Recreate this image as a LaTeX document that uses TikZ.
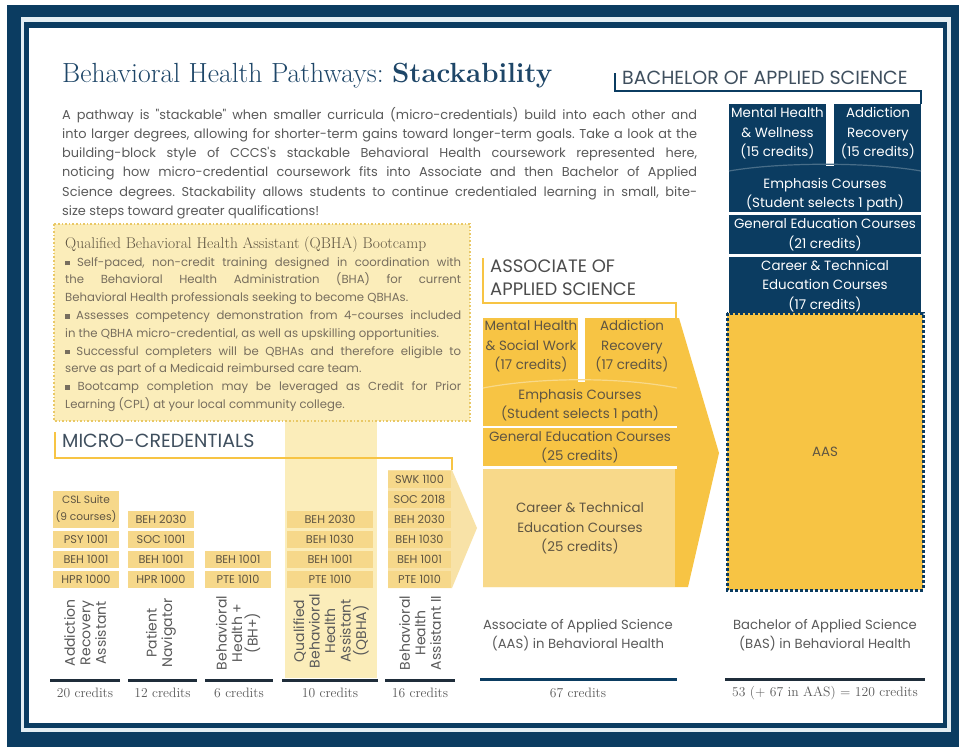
\documentclass[tikz,border=0pt]{standalone}
\usepackage{fontspec}
\usepackage{xcolor}
\usepackage{tikz}
\usetikzlibrary{positioning}
\newfontfamily\popfont{Poppins}
\frenchspacing

\definecolor{bhnavy}{HTML}{0B3C61}
\definecolor{titleblue}{HTML}{1E4668}
\definecolor{rim}{HTML}{E4EEF3}
\definecolor{gold}{HTML}{F7C444}
\definecolor{goldlt}{HTML}{F8D98A}
\definecolor{straw}{HTML}{F6D88A}
\definecolor{cream}{HTML}{FBEDBA}
\definecolor{dotgold}{HTML}{E9C866}
\definecolor{inkgrey}{HTML}{5A5A5A}
\definecolor{boxink}{HTML}{5F5542}
\definecolor{slate}{HTML}{3F4F5E}
\definecolor{rule}{HTML}{1F2D3A}

\begin{document}
\begin{tikzpicture}[x=1pt, y=-1pt,
  body/.style={font=\popfont\fontsize{12.9}{19.2}\selectfont, text=inkgrey, inner sep=0pt},
  head/.style={font=\popfont\fontsize{19}{23}\selectfont, inner sep=0pt, anchor=base west},
  mcbox/.style={fill=straw, text=boxink, font=\popfont\fontsize{11.3}{17}\selectfont, minimum height=17, inner sep=0pt},
  vlab/.style={font=\popfont\fontsize{14}{15.5}\selectfont, text=inkgrey, rotate=90, align=center, inner sep=0pt},
  stacktxt/.style={font=\popfont\fontsize{13.4}{19.5}\selectfont, align=center, inner sep=0pt},
  credline/.style={rule, line width=3pt},
  credtxt/.style={font=\fontsize{13.6}{15}\selectfont, text=inkgrey, inner sep=0pt}]
  \useasboundingbox (0,0) rectangle (959,747);
  \fill[white] (0,0) rectangle (959,747);

  % frame
  \fill[bhnavy] (7,5) rectangle (959,747);
  \fill[rim] (21,17) rectangle (951,732);
  \fill[bhnavy] (24,22) rectangle (947,728);
  \fill[white] (29,28) rectangle (943,723);

  % title and intro
  \node[anchor=base west, inner sep=0pt, text=titleblue, font=\fontsize{27.7}{30}\selectfont] (title) at (62,82)
    {Behavioral Health Pathways: \textbf{Stackability}};
  \node[body, anchor=north west, text width=635, align=justify] (intro) at (62,107)
    {A pathway is "stackable" when smaller curricula (micro-credentials) build into each other and\linebreak
     into larger degrees, allowing for shorter-term gains toward longer-term goals. Take a look at the\linebreak
     building-block style of CCCS's stackable Behavioral Health coursework represented here,\linebreak
     noticing how micro-credential coursework fits into Associate and then Bachelor of Applied\linebreak
     Science degrees. Stackability allows students to continue credentialed learning in small, bite-\linebreak
     size steps toward greater qualifications!};

  % QBHA column highlight + bootcamp box
  \fill[cream] (285,421) rectangle (377,678);
  \draw[dotgold, line width=1.6pt, dotted, fill=cream] (54,224) rectangle (470,421);
  \node[anchor=base west, inner sep=0pt, text=boxink, font=\fontsize{15.5}{18}\selectfont] (qbha-title) at (65,248)
    {Qualified Behavioral Health Assistant (QBHA) Bootcamp};
  \node[anchor=north west, inner sep=0pt, text width=396, align=justify, text=boxink!85,
        font=\popfont\fontsize{11.7}{17.8}\selectfont] (qbha) at (65,257)
    {\raisebox{0.8pt}{\rule{4.5pt}{4.5pt}} Self-paced, non-credit training designed in coordination with\linebreak
     the Behavioral Health Administration (BHA) for current\linebreak
     Behavioral Health professionals seeking to become QBHAs.\\
     \raisebox{0.8pt}{\rule{4.5pt}{4.5pt}} Assesses competency demonstration from 4-courses included\linebreak
     in the QBHA micro-credential, as well as upskilling opportunities.\\
     \raisebox{0.8pt}{\rule{4.5pt}{4.5pt}} Successful completers will be QBHAs and therefore eligible to\linebreak
     serve as part of a Medicaid reimbursed care team.\\
     \raisebox{0.8pt}{\rule{4.5pt}{4.5pt}} Bootcamp completion may be leveraged as Credit for Prior\linebreak
     Learning (CPL) at your local community college.};

  % micro-credentials
  \node[head, text=slate] (micro-head) at (62,447) {MICRO-CREDENTIALS};
  \draw[gold, line width=2.5pt] (55,432) -- (55,458) -- (452,458) -- (452,470);
  \fill[straw!75!white] (388,470) -- (452,470) -- (477,528) -- (452,588) -- (388,588) -- cycle;
  \foreach \k/\cx/\cw/\rows in {a/86/66/{HPR 1000,BEH 1001,PSY 1001},
      b/161/66/{HPR 1000,BEH 1001,SOC 1001,BEH 2030},
      c/238/66/{PTE 1010,BEH 1001},
      d/330/86/{PTE 1010,BEH 1001,BEH 1030,BEH 2030},
      e/419.5/63/{PTE 1010,BEH 1001,BEH 1030,BEH 2030,SOC 2018,SWK 1100}} {
    \foreach \lab [count=\i] in \rows
      \node[mcbox, minimum width=\cw, name=\k\i] at (\cx,599-20*\i) {\lab};
  }
  \node[mcbox, minimum width=66, minimum height=37, align=center,
        font=\popfont\fontsize{10.6}{17}\selectfont] (a4) at (86,509) {CSL Suite\\(9 courses)};

  % column names and credits
  \node[vlab] (lab-a) at (85,633) {Addiction\\Recovery\\Assistant};
  \node[vlab] (lab-b) at (161,633) {Patient\\Navigator};
  \node[vlab] (lab-c) at (238,633) {Behavioral\\Health +\\(BH+)};
  \node[vlab] (lab-d) at (331,631) {Qualified\\Behavioral\\Health\\Assistant\\(QBHA)};
  \node[vlab] (lab-e) at (420,633) {Behavioral\\Health\\Assistant II};
  \foreach \k/\xa/\xb/\cr in {a/50/120/20, b/128/197/12, c/205/273/6, d/282/378/10, e/385/455/16} {
    \draw[credline] (\xa,680) -- (\xb,680);
    \node[credtxt, name=cr-\k] at ({(\xa+\xb)/2},693) {\cr\ credits};
  }

  % associate of applied science
  \node[head, text=inkgrey!85!black, align=left, anchor=north west,
        font=\popfont\fontsize{18}{23}\selectfont] (aas-head) at (490,260)
    {ASSOCIATE OF\\APPLIED SCIENCE};
  \draw[gold, line width=2.5pt] (483,258) -- (483,303) -- (676,303) -- (676,318);
  \fill[gold] (483,318) -- (679,318) -- (719,453) -- (688,587) -- (483,587) -- cycle;
  \fill[goldlt] (483,469) rectangle (675,587);
  \fill[white] (578,318) rectangle (585,382);
  \draw[goldlt, line width=1.2pt] (483,388) .. controls (540,377) and (620,377) .. (677,388);
  \draw[white, line width=2.5pt] (483,427) -- (677,427) (483,467.5) -- (677,467.5);
  \node[stacktxt, text=boxink] (aas-mh) at (531,346.5) {Mental Health\\\& Social Work\\(17 credits)};
  \node[stacktxt, text=boxink] (aas-ar) at (632,346.5) {Addiction\\Recovery\\(17 credits)};
  \node[stacktxt, text=boxink] (aas-em) at (580,405.5) {Emphasis Courses\\(Student selects 1 path)};
  \node[stacktxt, text=boxink] (aas-ge) at (580,447) {General Education Courses\\(25 credits)};
  \node[stacktxt, text=boxink] (aas-ct) at (580,528.5) {Career \& Technical\\Education Courses\\(25 credits)};
  \node[stacktxt, text=inkgrey, font=\popfont\fontsize{13.2}{19.5}\selectfont] (aas-name) at (578,635)
    {Associate of Applied Science\\(AAS) in Behavioral Health};
  \draw[credline, bhnavy] (480,679) -- (677,679);
  \node[credtxt] (aas-cr) at (578,693) {67 credits};

  % bachelor of applied science
  \node[head, text=slate] (bas-head) at (622,84.5) {BACHELOR OF APPLIED SCIENCE};
  \draw[bhnavy, line width=2.5pt] (615,73) -- (615,91) -- (921,91) -- (921,104);
  \fill[bhnavy] (729,104) rectangle (921,313);
  \fill[white] (826,104) rectangle (834,166);
  \draw[bhnavy!75!white, line width=1.2pt] (729,171) .. controls (780,162) and (870,162) .. (921,171);
  \draw[white, line width=2.5pt] (729,213.5) -- (921,213.5) (729,255.5) -- (921,255.5);
  \node[stacktxt, text=white] (bas-mh) at (777.5,133.5) {Mental Health\\\& Wellness\\(15 credits)};
  \node[stacktxt, text=white] (bas-ar) at (878,133.5) {Addiction\\Recovery\\(15 credits)};
  \node[stacktxt, text=white] (bas-em) at (825,194.5) {Emphasis Courses\\(Student selects 1 path)};
  \node[stacktxt, text=white] (bas-ge) at (825,234.5) {General Education Courses\\(21 credits)};
  \node[stacktxt, text=white] (bas-ct) at (825,286) {Career \& Technical\\Education Courses\\(17 credits)};
  \draw[bhnavy, line width=3pt, dash pattern=on 3pt off 2pt, fill=gold] (727,313) rectangle (923,590);
  \node[stacktxt, text=boxink] (bas-aas) at (825,452) {AAS};
  \node[stacktxt, text=inkgrey, font=\popfont\fontsize{13.2}{19.5}\selectfont] (bas-name) at (825,635)
    {Bachelor of Applied Science\\(BAS) in Behavioral Health};
  \draw[credline] (725,679) -- (925,679);
  \node[credtxt] (bas-cr) at (825,693) {53 (+ 67 in AAS) = 120 credits};
\end{tikzpicture}
\end{document}
